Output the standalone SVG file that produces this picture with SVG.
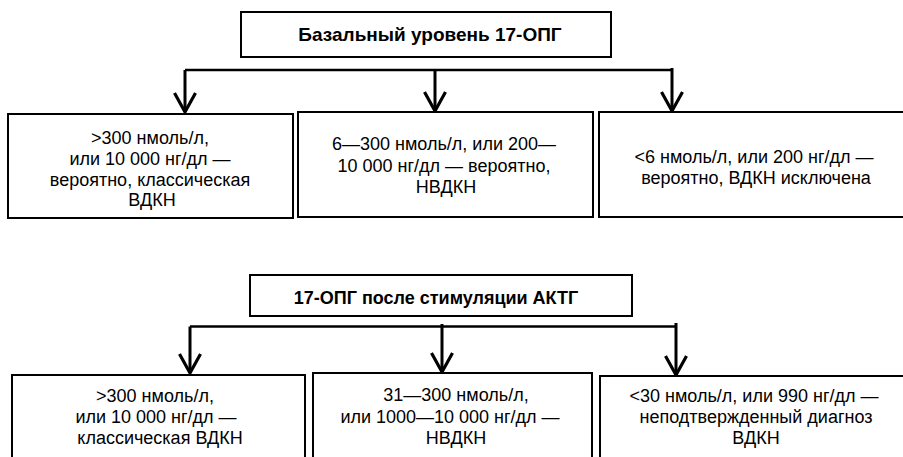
<svg xmlns="http://www.w3.org/2000/svg" width="903" height="457" viewBox="0 0 903 457">
<defs>
<style>
.box{fill:#fff;stroke:#000;stroke-width:2}
.t{font-family:"Liberation Sans",Arial,sans-serif;font-size:18px;fill:#000;text-anchor:middle}
.b{font-weight:bold}
.c{fill:none;stroke:#000;stroke-width:3}
.h{fill:none;stroke:#000;stroke-width:2.5}
</style>
<marker id="arr" markerUnits="userSpaceOnUse" markerWidth="28" markerHeight="28" viewBox="-24 -14 28 28" refX="0" refY="0" orient="auto">
<path d="M-19,-10.5 L0,0 L-19,10.5" fill="none" stroke="#000" stroke-width="3.2" stroke-linejoin="miter"/>
</marker>
</defs>
<rect width="903" height="457" fill="#fff"/>

<g id="connectors">
<path class="h" d="M185,70 H672"/>
<path class="c" d="M185,70 V112" marker-end="url(#arr)"/>
<path class="c" d="M435,70 V111" marker-end="url(#arr)"/>
<path class="c" d="M672,68 V111" marker-end="url(#arr)"/>
<path class="h" d="M190,326.5 H676"/>
<path class="c" d="M190,326.5 V373" marker-end="url(#arr)"/>
<path class="c" d="M442,324 V372" marker-end="url(#arr)"/>
<path class="c" d="M676,323 V375" marker-end="url(#arr)"/>
</g>

<g id="title1">
<rect class="box" x="241" y="12" width="370" height="45"/>
<text class="t b" x="430" y="41" style="font-size:19px">Базальный уровень 17-ОПГ</text>
</g>
<g id="box1">
<rect class="box" x="8" y="114" width="285" height="104"/>
<text class="t"><tspan x="150" y="143.5">&gt;300 нмоль/л,</tspan><tspan x="150" y="164.5">или 10 000 нг/дл —</tspan><tspan x="150" y="185.5">вероятно, классическая</tspan><tspan x="152" y="206">ВДКН</tspan></text>
</g>
<g id="box2">
<rect class="box" x="298" y="112" width="295" height="105"/>
<text class="t"><tspan x="444" y="150">6—300 нмоль/л, или 200—</tspan><tspan x="444" y="171.5">10 000 нг/дл — вероятно,</tspan><tspan x="446" y="193">НВДКН</tspan></text>
</g>
<g id="box3">
<rect class="box" x="599" y="112" width="312" height="105"/>
<text class="t"><tspan x="754" y="163">&lt;6 нмоль/л, или 200 нг/дл —</tspan><tspan x="756" y="184">вероятно, ВДКН исключена</tspan></text>
</g>

<g id="title2">
<rect class="box" x="250" y="275" width="382" height="41"/>
<text class="t b" x="436" y="304">17-ОПГ после стимуляции АКТГ</text>
</g>
<g id="lbox1">
<rect class="box" x="12" y="375" width="293" height="100"/>
<text class="t"><tspan x="155" y="402">&gt;300 нмоль/л,</tspan><tspan x="156" y="423">или 10 000 нг/дл —</tspan><tspan x="160" y="444">классическая ВДКН</tspan></text>
</g>
<g id="lbox2">
<rect class="box" x="313" y="373" width="279" height="100"/>
<text class="t"><tspan x="456" y="401">31—300 нмоль/л,</tspan><tspan x="450" y="422.5">или 1000—10 000 нг/дл —</tspan><tspan x="456" y="444">НВДКН</tspan></text>
</g>
<g id="lbox3">
<rect class="box" x="600" y="376" width="320" height="100"/>
<text class="t"><tspan x="754" y="401.5">&lt;30 нмоль/л, или 990 нг/дл —</tspan><tspan x="756" y="423">неподтвержденный диагноз</tspan><tspan x="756" y="444">ВДКН</tspan></text>
</g>
</svg>
